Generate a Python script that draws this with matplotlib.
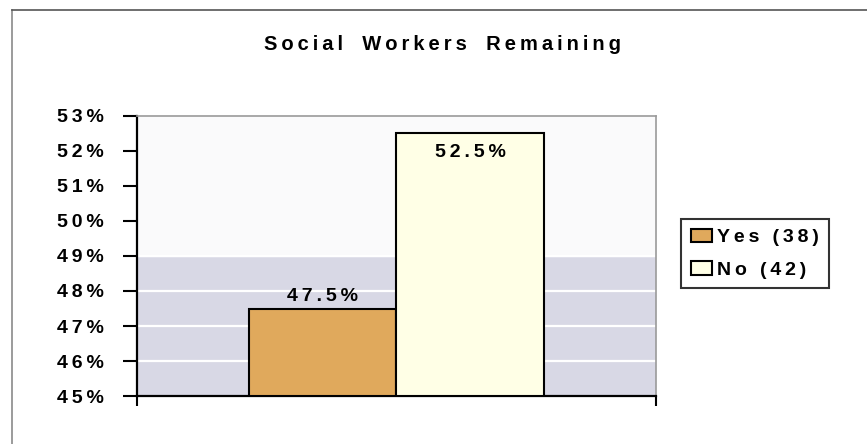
import matplotlib
matplotlib.use("Agg")
import matplotlib.pyplot as plt
from matplotlib.lines import Line2D

# survey answers
labels = ['Yes (38)', 'No (42)']
values = [47.5, 52.5]
colors = ['#E0A95C', '#FFFFE6']
title = 'Social Workers Remaining'
yticks = [45, 46, 47, 48, 49, 50, 51, 52, 53]

plt.rcParams['font.family'] = ['Liberation Sans', 'DejaVu Sans']
plt.rcParams['font.weight'] = 'bold'
FS = 14


def spaced(s):
    # wide letter spacing, thin space between glyphs
    return '\u2009'.join(s)


W, H = 867, 444
fig = plt.figure(figsize=(W / 100, H / 100), dpi=100)

# frame around the chart
fig.add_artist(Line2D([12 / W, 12 / W], [0, 1 - 10 / H], color='#8a8a8a', lw=1.2))
fig.add_artist(Line2D([12 / W, 1], [1 - 10 / H, 1 - 10 / H], color='#555555', lw=1.2))

ax = fig.add_axes([137 / W, 1 - 396 / H, (656 - 137) / W, (396 - 116) / H])
ax.set_ylim(45, 53)
ax.set_xlim(0, 1)

# plot area background: lavender lower band, near white above
ax.axhspan(45, 49, color='#D8D8E5', zorder=0)
ax.axhspan(49, 53, color='#FAFAFB', zorder=0)
for y in yticks[1:5]:
    ax.axhline(y, color='white', lw=1.6, zorder=1)

bw = 0.285
xs = [0.5 - bw / 2, 0.5 + bw / 2]
bars = ax.bar(xs, [v - 45 for v in values], bottom=45, width=bw, color=colors,
              edgecolor='black', linewidth=1.5, zorder=3)

ax.text(xs[0], values[0] + 0.1, spaced(f'{values[0]}%'), ha='center', va='bottom',
        fontsize=FS, fontweight='bold', zorder=4)
ax.text(xs[1], values[1] - 0.3, spaced(f'{values[1]}%'), ha='center', va='top',
        fontsize=FS, fontweight='bold', zorder=4)

ax.set_yticks(yticks)
ax.set_yticklabels([spaced(f'{t}%') for t in yticks], fontsize=FS, fontweight='bold')
ax.set_xticks([0, 1])
ax.set_xticklabels([])
ax.tick_params(axis='y', direction='out', length=10, width=1.5, pad=14)
ax.tick_params(axis='x', direction='out', length=7, width=1.5)

for s in ['left', 'bottom']:
    ax.spines[s].set_linewidth(1.6)
    ax.spines[s].set_color('black')
for s in ['top', 'right']:
    ax.spines[s].set_linewidth(1.2)
    ax.spines[s].set_color('#9a9a9a')

fig.text(443 / W, 1 - 45 / H, spaced(title).replace('\u2009 \u2009', '\u2009  \u2009'),
         ha='center', va='center', fontsize=14.5, fontweight='bold')

leg = fig.legend(bars, [spaced(l) for l in labels], loc='upper left',
                 bbox_to_anchor=(681 / W, 1 - 219 / H), frameon=True,
                 fancybox=False, edgecolor='black', fontsize=FS,
                 handlelength=1.07, handleheight=0.7, handletextpad=0.3,
                 borderpad=0.5, labelspacing=0.75, borderaxespad=0)
leg.get_frame().set_linewidth(1.5)
for h in leg.legend_handles:
    h.set_linewidth(1.5)

fig.savefig('out.png', dpi=100)
